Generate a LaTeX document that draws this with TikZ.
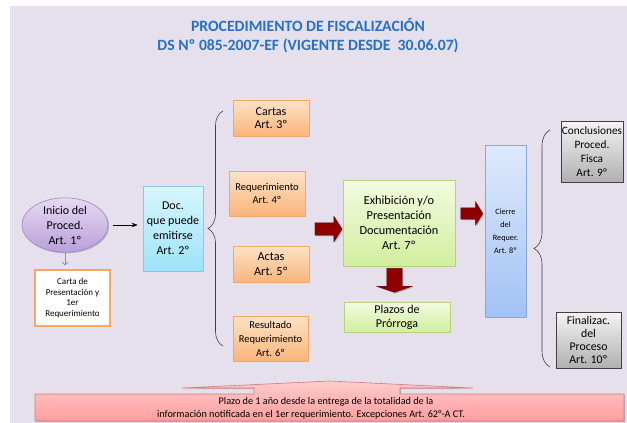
\documentclass[tikz,border=0pt]{standalone}
\usepackage{fontspec}
\setmainfont{Carlito}
\usetikzlibrary{shapes.geometric,shapes.arrows,shadows,decorations.pathreplacing,arrows.meta}
\definecolor{bgc}{HTML}{E6E0EC}
\definecolor{titleblue}{RGB}{40,112,196}
\definecolor{orTop}{HTML}{FDE2C6}
\definecolor{orBot}{HTML}{F9B57C}
\definecolor{orBrd}{HTML}{F5A866}
\definecolor{cyTop}{HTML}{D8F6FD}
\definecolor{cyBot}{HTML}{9DE3F8}
\definecolor{cyBrd}{HTML}{8CC8E4}
\definecolor{puTop}{HTML}{E6D8F2}
\definecolor{puBot}{HTML}{B9A1D9}
\definecolor{puBrd}{HTML}{9C88C3}
\definecolor{grTop}{HTML}{F3FBE1}
\definecolor{grBot}{HTML}{D2EE9E}
\definecolor{grBrd}{HTML}{B3D57A}
\definecolor{blTop}{HTML}{DEEAFC}
\definecolor{blBot}{HTML}{A2C1F4}
\definecolor{blBrd}{HTML}{86A9DE}
\definecolor{gyTop}{HTML}{F4F4F4}
\definecolor{gyBot}{HTML}{B0B0B0}
\definecolor{gyBrd}{HTML}{404040}
\definecolor{pkTop}{HTML}{FFCACA}
\definecolor{pkBot}{HTML}{FF9E9E}
\definecolor{pkBrd}{HTML}{D47A7A}
\definecolor{darkred}{HTML}{8E0000}
\definecolor{darkredBrd}{HTML}{600000}
\definecolor{smallarrow}{HTML}{5B9BD5}
\tikzset{
  shadowed/.style={drop shadow={shadow xshift=1.2pt,shadow yshift=-1.2pt,opacity=0.3,fill=black!70}},
  box/.style={rectangle,line width=0.6pt,align=center,inner sep=0.5pt,shadowed},
  orbox/.style={box,draw=orBrd,top color=orTop,bottom color=orBot},
  cybox/.style={box,draw=cyBrd,top color=cyTop,bottom color=cyBot},
  grbox/.style={box,draw=grBrd,top color=grTop,bottom color=grBot},
  blbox/.style={box,draw=blBrd,top color=blTop,bottom color=blBot},
  gybox/.style={box,draw=gyBrd,top color=gyTop,bottom color=gyBot},
  blockarrow/.style={single arrow,draw=darkredBrd,fill=darkred,line width=0.4pt,inner xsep=0pt,shadowed},
  bracestyle/.style={decorate,draw=black!75,line width=0.6pt},
  fs/.style n args={2}{font=\fontsize{#1}{#2}\selectfont}
}
\begin{document}
\begin{tikzpicture}[x=1pt,y=-1pt]
\useasboundingbox (0,0) rectangle (627,423);
\fill[bgc] (10,6) rectangle (627,423);

% title
\node[text=titleblue,align=center,font=\bfseries\fontsize{15.7}{19}\selectfont] (title) at (308,35.5)
  {PROCEDIMIENTO DE FISCALIZACIÓN\\DS Nº 085-2007-EF (VIGENTE DESDE~~30.06.07)};

% left part
\node[ellipse,draw=puBrd,line width=0.6pt,top color=puTop,bottom color=puBot,shadowed,
      minimum width=86pt,minimum height=50pt,inner sep=0pt,align=center,fs={12}{15}] (inicio) at (65,225)
  {Inicio del\\Proced.\\Art. 1º};
\node[rectangle,draw=orBrd,line width=1.2pt,fill=white,align=center,inner sep=0pt,shadowed,
      minimum width=75pt,minimum height=56pt,fs={9}{10.4}] (carta) at (72.5,298)
  {Carta de\\Presentación y\\1er\\Requerimiento};
\node[cybox,minimum width=60pt,minimum height=85pt,fs={12}{15}] (doc) at (173,228.5)
  {Doc.\\que puede\\emitirse\\Art. 2º};

\draw[-{Stealth[length=6pt,width=4.5pt]},line width=0.6pt,shorten <=5pt,shorten >=5pt]
  (inicio.east) -- (inicio.east -| doc.west);
\draw[smallarrow,line width=0.7pt,-{Straight Barb[length=3pt,width=6pt]},shorten <=1pt,shorten >=4pt]
  (inicio.south) -- (inicio.south |- carta.north);

% left brace
\coordinate (lbB) at (223,346);
\coordinate (lbT) at (223,111);
\draw[bracestyle,decoration={brace,amplitude=15pt}] (lbB) -- (lbT);

% orange column
\node[orbox,minimum width=76pt,minimum height=36pt,fs={12}{13.5}] (cartas) at (271,118) {Cartas\\Art. 3º};
\node[orbox,minimum width=76pt,minimum height=45pt,fs={10.5}{13}] (req) at (267,193.5) {Requerimiento\\Art. 4º};
\node[orbox,minimum width=76pt,minimum height=36pt,fs={12.3}{14.5}] (actas) at (271,264) {Actas\\Art. 5º};
\node[orbox,minimum width=75pt,minimum height=45pt,fs={10.5}{14}] (result) at (270.5,338.5) {Resultado\\Requerimiento\\Art. 6º};

% middle
\node[blockarrow,minimum height=27pt,inner ysep=6pt,single arrow head extend=6.5pt,single arrow tip angle=115] (arr1) at (326.5,229) {};
\node[grbox,minimum width=112pt,minimum height=86pt,fs={12.3}{15}] (exhib) at (399,223)
  {Exhibición y/o\\Presentación\\Documentación\\Art. 7º};
\node[blockarrow,rotate=-90,minimum height=24pt,inner ysep=7.5pt,single arrow head extend=10pt,single arrow tip angle=142] (arr3) at (394.5,279) {};
\node[grbox,minimum width=106pt,minimum height=30pt,fs={12}{14}] (plazos) at (397,317) {Plazos de\\Prórroga};
\node[blockarrow,minimum height=22pt,inner ysep=5.5pt,single arrow head extend=6pt,single arrow tip angle=117] (arr2) at (470,213.5) {};
\node[blbox,minimum width=41pt,minimum height=172pt,fs={8.2}{13}] (cierre) at (505.5,231) {Cierre\\del\\Requer.\\Art. 8º};

% right brace
\coordinate (rbB) at (550,367);
\coordinate (rbT) at (550,130);
\draw[bracestyle,decoration={brace,amplitude=16pt}] (rbB) -- (rbT);

\node[gybox,minimum width=62pt,minimum height=61pt,fs={11.3}{14}] (concl) at (592,151.5)
  {Conclusiones\\Proced.\\Fisca\\Art. 9º};
\node[gybox,minimum width=65pt,minimum height=56pt,fs={11.8}{13.2}] (final) at (588.5,340)
  {Finalizac.\\del\\Proceso\\Art. 10º};

% bottom callout
\path[draw=pkBrd,line width=0.6pt,top color=pkTop,bottom color=pkBot,shadowed]
  (35,421) -- (35,394) -- (254,394) -- (254,388) -- (182,388) -- (330,381) -- (473,388)
  -- (400,388) -- (400,394) -- (624,394) -- (624,421) -- cycle;
\node[align=center,inner sep=0pt,fs={10.2}{12.5}] (plazo) at (311,408.5)
  {\hspace*{30pt}Plazo de 1 año desde la entrega de la totalidad de la\\información notificada en el 1er requerimiento. Excepciones Art. 62°-A CT.};
\end{tikzpicture}
\end{document}
